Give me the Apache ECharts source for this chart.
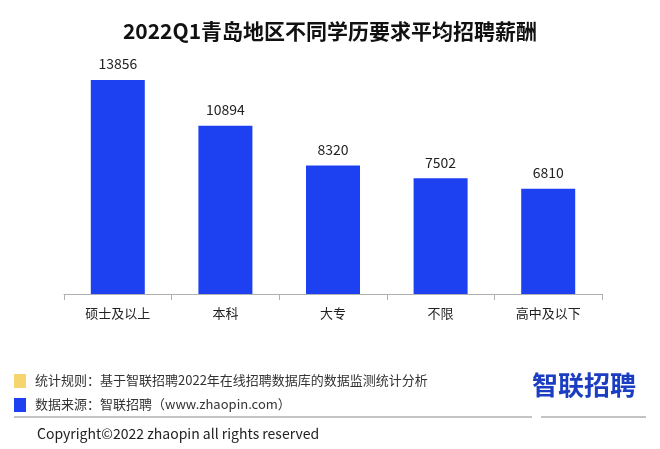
<!DOCTYPE html>
<html><head><meta charset="utf-8">
<script src="https://cdn.jsdelivr.net/npm/echarts@6/dist/echarts.min.js"></script>
<style>html,body{margin:0;padding:0;background:#fff}#c{width:660px;height:449px}</style>
</head><body><div id="c"></div>
<script>
var titleText = '2022Q1青岛地区不同学历要求平均招聘薪酬';
var categories = ['硕士及以上', '本科', '大专', '不限', '高中及以下'];
var salaries = [13856, 10894, 8320, 7502, 6810];
var noteRule = '统计规则：基于智联招聘2022年在线招聘数据库的数据监测统计分析';
var noteSource = '数据来源：智联招聘（www.zhaopin.com）';
var copyright = 'Copyright©2022 zhaopin all rights reserved';
var logoText = '智联招聘';

var font = '"Noto Sans CJK SC", "Noto Sans", sans-serif';
var chart = echarts.init(document.getElementById('c'));
chart.setOption({
  backgroundColor: '#fff',
  animation: false,
  title: {
    text: titleText, left: 'center', top: 16,
    textStyle: { fontFamily: font, fontSize: 21, fontWeight: 'bold', color: '#111' }
  },
  grid: { left: 64, right: 58, top: 47, bottom: 155 },
  xAxis: {
    type: 'category', data: categories,
    axisLine: { lineStyle: { color: '#b0b0b0', width: 1 } },
    axisTick: { show: true, alignWithLabel: false, length: 6, lineStyle: { color: '#b0b0b0' } },
    axisLabel: { fontFamily: font, fontSize: 13, color: '#222', margin: 13 }
  },
  yAxis: {
    type: 'value', min: 0, max: 16000, show: false,
    splitLine: { show: false }
  },
  series: [{
    type: 'bar', data: salaries, barWidth: 54,
    itemStyle: { color: '#1d40f0' },
    label: { show: true, position: 'top', distance: 9, fontFamily: font, fontSize: 14, color: '#222' }
  }],
  graphic: [
    { type: 'rect', shape: { x: 14, y: 374, width: 12, height: 14 }, style: { fill: '#f7d56e' } },
    { type: 'text', x: 35, y: 380, style: { text: noteRule, font: '13px ' + font, fill: '#333', textVerticalAlign: 'middle' } },
    { type: 'rect', shape: { x: 14, y: 398, width: 12, height: 14 }, style: { fill: '#1d40f0' } },
    { type: 'text', x: 35, y: 404, style: { text: noteSource, font: '13px ' + font, fill: '#333', textVerticalAlign: 'middle' } },
    { type: 'text', x: 532, y: 385, style: { text: logoText, font: 'bold 26px ' + font, fill: '#1a3dc2', textVerticalAlign: 'middle' } },
    { type: 'line', shape: { x1: 14, y1: 417, x2: 532, y2: 417 }, style: { stroke: '#888', lineWidth: 1 } },
    { type: 'line', shape: { x1: 541, y1: 417, x2: 646, y2: 417 }, style: { stroke: '#888', lineWidth: 1 } },
    { type: 'text', x: 37, y: 434, style: { text: copyright, font: '14px ' + font, fill: '#222', textVerticalAlign: 'middle' } }
  ]
});
</script></body></html>
